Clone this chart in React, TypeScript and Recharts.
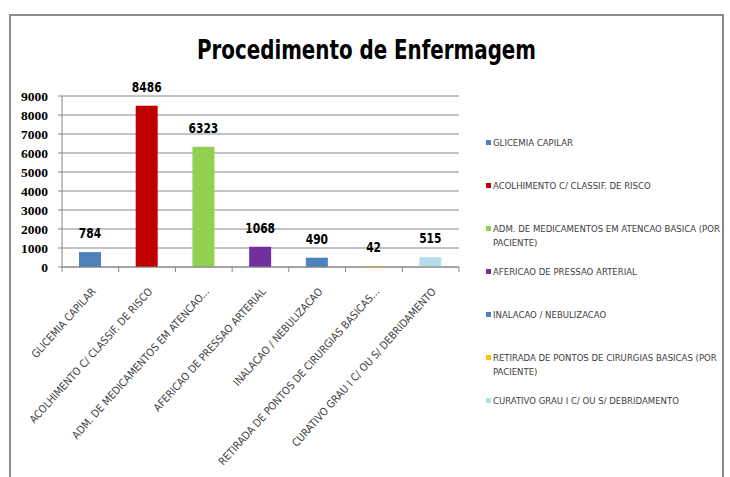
import React from 'react';
import { BarChart, Bar, XAxis, YAxis, CartesianGrid, Cell, LabelList } from 'recharts';

const categories = [
  'GLICEMIA CAPILAR',
  'ACOLHIMENTO C/ CLASSIF. DE RISCO',
  'ADM. DE MEDICAMENTOS EM ATENCAO BASICA (POR PACIENTE)',
  'AFERICAO DE PRESSAO ARTERIAL',
  'INALACAO / NEBULIZACAO',
  'RETIRADA DE PONTOS DE CIRURGIAS BASICAS (POR PACIENTE)',
  'CURATIVO GRAU I C/ OU S/ DEBRIDAMENTO',
];

const tickLabels = [
  'GLICEMIA CAPILAR',
  'ACOLHIMENTO C/ CLASSIF. DE RISCO',
  'ADM. DE MEDICAMENTOS EM ATENCAO...',
  'AFERICAO DE PRESSAO ARTERIAL',
  'INALACAO / NEBULIZACAO',
  'RETIRADA DE PONTOS DE CIRURGIAS BASICAS...',
  'CURATIVO GRAU I C/ OU S/ DEBRIDAMENTO',
];

const legendLabels = [
  'GLICEMIA CAPILAR',
  'ACOLHIMENTO C/ CLASSIF. DE RISCO',
  'ADM. DE MEDICAMENTOS EM ATENCAO BASICA (POR\nPACIENTE)',
  'AFERICAO DE PRESSAO ARTERIAL',
  'INALACAO / NEBULIZACAO',
  'RETIRADA DE PONTOS DE CIRURGIAS BASICAS (POR\nPACIENTE)',
  'CURATIVO GRAU I C/ OU S/ DEBRIDAMENTO',
];

const values = [784, 8486, 6323, 1068, 490, 42, 515];
const colors = ['#4F81BD', '#C00000', '#92D050', '#7030A0', '#4F81BD', '#FFC000', '#B7DEE8'];
const yTicks = [0, 1000, 2000, 3000, 4000, 5000, 6000, 7000, 8000, 9000];

const data = categories.map((c, i) => ({ name: c, label: tickLabels[i], value: values[i] }));

const W = 730;
const H = 477;
const MARGIN = { top: 96, right: 271, bottom: 10, left: 10 };
const Y_AXIS_W = 52;
const X_AXIS_H = 200;
const BAND = (W - MARGIN.left - Y_AXIS_W - MARGIN.right) / categories.length;
const GRID = '#868686';
const SANS = '"DejaVu Sans Condensed", "Liberation Sans Narrow", "Noto Sans", sans-serif';

const XTick = (props: any) => {
  const { x, y, payload, index } = props;
  return (
    <g>
      <line x1={x + BAND / 2} y1={y} x2={x + BAND / 2} y2={y + 5} stroke={GRID} />
      {index === 0 && <line x1={x - BAND / 2} y1={y} x2={x - BAND / 2} y2={y + 5} stroke={GRID} />}
      <text
        transform={`translate(${x + 6},${y + 25}) rotate(-48)`}
        textAnchor="end"
        fontSize={10.7}
        fontFamily={SANS}
        fill="#404040"
      >
        {payload.value}
      </text>
    </g>
  );
};

const ValueLabel = (props: any) => {
  const { x, y, width, value } = props;
  return (
    <text
      transform={`translate(${x + width / 2},${y - 14}) scale(0.82,1)`}
      textAnchor="middle"
      fontSize={14.5}
      fontWeight={700}
      fontFamily={SANS}
      fill="#000"
    >
      {value}
    </text>
  );
};

export default function App() {
  return (
    <div style={{ position: 'absolute', left: 0, top: 0, width: W, height: H, background: '#fff', overflow: 'hidden' }}>
      <div
        style={{
          position: 'absolute',
          left: 9,
          top: 14,
          width: 711,
          height: 480,
          border: '2px solid #8a8a8a',
          borderBottom: 'none',
        }}
      />
      <BarChart width={W} height={H} data={data} margin={MARGIN}>
        <text
          x={366.5}
          y={59}
          textAnchor="middle"
          fontSize={26}
          fontWeight={700}
          fontFamily={SANS}
          fill="#000"
          textLength={339}
          lengthAdjust="spacingAndGlyphs"
        >
          Procedimento de Enfermagem
        </text>
        <CartesianGrid vertical={false} stroke={GRID} />
        <XAxis
          dataKey="label"
          interval={0}
          height={X_AXIS_H}
          tickSize={0}
          tickMargin={0}
          axisLine={{ stroke: GRID }}
          tick={<XTick />}
        />
        <YAxis
          width={Y_AXIS_W}
          domain={[0, 9000]}
          ticks={yTicks}
          interval={0}
          tickSize={4}
          tickMargin={10}
          axisLine={{ stroke: GRID }}
          tickLine={{ stroke: GRID }}
          tick={{ fontSize: 13.5, fontWeight: 700, fontFamily: '"Liberation Serif", "DejaVu Serif", serif', fill: '#000' }}
        />
        <Bar dataKey="value" barSize={22} isAnimationActive={false}>
          {data.map((d, i) => (
            <Cell key={d.name} fill={colors[i]} />
          ))}
          <LabelList dataKey="value" content={<ValueLabel />} />
        </Bar>
      </BarChart>
      <div style={{ position: 'absolute', left: 486, top: 135.5, width: 236 }}>
        {legendLabels.map((l, i) => (
          <div key={i} style={{ height: 43, display: 'flex', alignItems: 'flex-start' }}>
            <div style={{ width: 5, height: 5, background: colors[i], marginTop: 4.5, flex: '0 0 5px' }} />
            <div
              style={{
                marginLeft: 2,
                fontSize: 9.5,
                lineHeight: '14px',
                fontFamily: SANS,
                color: '#404040',
                whiteSpace: 'pre',
              }}
            >
              {l}
            </div>
          </div>
        ))}
      </div>
    </div>
  );
}
